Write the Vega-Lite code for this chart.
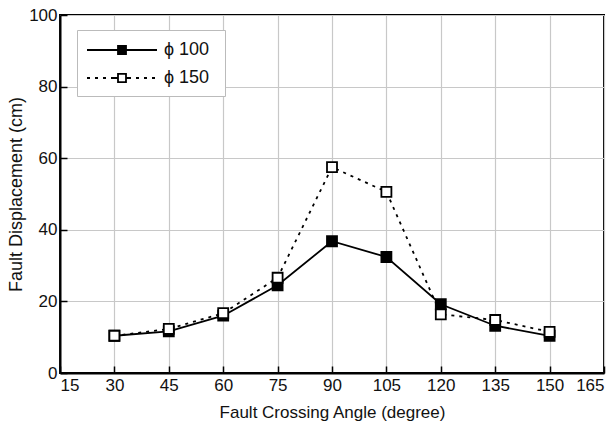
{
  "$schema": "https://vega.github.io/schema/vega-lite/v6.json",
  "width": 544,
  "height": 358,
  "autosize": "none",
  "padding": {"left": 60, "top": 15, "right": 9, "bottom": 59},
  "background": "white",
  "config": {
    "font": "Liberation Sans",
    "view": {"stroke": "black", "strokeWidth": 2},
    "axis": {
      "labelFont": "Liberation Sans",
      "titleFont": "Liberation Sans",
      "labelFontSize": 17,
      "titleFontSize": 17,
      "labelColor": "#111",
      "titleColor": "#111",
      "titleFontWeight": "normal",
      "domainColor": "black",
      "domainWidth": 2,
      "tickColor": "black",
      "tickWidth": 1.5,
      "tickSize": -7,
      "gridColor": "#c8c8c8",
      "gridWidth": 1.2,
      "gridOpacity": 1
    }
  },
  "data": {
    "values": [
      {"angle": 30, "disp": 10.4, "series": "ϕ 100"},
      {"angle": 45, "disp": 11.6, "series": "ϕ 100"},
      {"angle": 60, "disp": 16.0, "series": "ϕ 100"},
      {"angle": 75, "disp": 24.5, "series": "ϕ 100"},
      {"angle": 90, "disp": 36.8, "series": "ϕ 100"},
      {"angle": 105, "disp": 32.4, "series": "ϕ 100"},
      {"angle": 120, "disp": 19.2, "series": "ϕ 100"},
      {"angle": 135, "disp": 13.2, "series": "ϕ 100"},
      {"angle": 150, "disp": 10.4, "series": "ϕ 100"},
      {"angle": 30, "disp": 10.4, "series": "ϕ 150"},
      {"angle": 45, "disp": 12.3, "series": "ϕ 150"},
      {"angle": 60, "disp": 16.7, "series": "ϕ 150"},
      {"angle": 75, "disp": 26.6, "series": "ϕ 150"},
      {"angle": 90, "disp": 57.5, "series": "ϕ 150"},
      {"angle": 105, "disp": 50.6, "series": "ϕ 150"},
      {"angle": 120, "disp": 16.4, "series": "ϕ 150"},
      {"angle": 135, "disp": 14.8, "series": "ϕ 150"},
      {"angle": 150, "disp": 11.5, "series": "ϕ 150"}
    ]
  },
  "encoding": {
    "x": {
      "field": "angle", "type": "quantitative",
      "scale": {"domain": [15, 165], "nice": false, "zero": false},
      "axis": {"values": [15, 30, 45, 60, 75, 90, 105, 120, 135, 150, 165], "title": "Fault Crossing Angle (degree)", "titlePadding": 11, "labelPadding": 11}
    },
    "y": {
      "field": "disp", "type": "quantitative",
      "scale": {"domain": [0, 100], "nice": false},
      "axis": {"values": [0, 20, 40, 60, 80, 100], "title": "Fault Displacement (cm)", "titleFontSize": 18, "titlePadding": 3, "labelPadding": 10}
    }
  },
  "layer": [
    {
      "transform": [{"filter": "datum.series === 'ϕ 100'"}],
      "mark": {"type": "line", "color": "black", "strokeWidth": 1.8},
      "encoding": {}
    },
    {
      "transform": [{"filter": "datum.series === 'ϕ 150'"}],
      "mark": {"type": "line", "color": "black", "strokeWidth": 1.8, "strokeDash": [3, 5]},
      "encoding": {}
    },
    {
      "mark": {"type": "point", "shape": "square", "size": 100, "stroke": "black", "strokeWidth": 1.8, "opacity": 1, "filled": true},
      "encoding": {
        "fill": {
          "field": "series", "type": "nominal",
          "scale": {"domain": ["ϕ 100", "ϕ 150"], "range": ["black", "white"]},
          "legend": {
            "title": null,
            "orient": "none",
            "legendX": 17,
            "legendY": 15,
            "padding": 9,
            "strokeColor": "#bbbbbb",
            "fillColor": "white",
            "labelFontSize": 18,
            "labelColor": "#111",
            "labelFont": "Liberation Sans",
            "symbolSize": 400,
            "symbolStrokeWidth": 1.8,
            "symbolStrokeColor": "black",
            "symbolOpacity": 1,
            "rowPadding": 8,
            "labelOffset": 56,
            "encode": {
              "symbols": {
                "update": {
                  "shape": [
                    {"test": "datum.value === 'ϕ 100'", "value": "M-1,0H6M2.1,-0.42H2.9V0.42H2.1ZM11.5,0"},
                    {"value": "M-1,0H-0.7M-0.2,0H0.1M0.6,0H0.9M1.4,0H2.1M2.9,0H3.4M3.9,0H4.2M4.7,0H5M5.5,0H5.8M2.1,-0.42H2.9V0.42H2.1ZM11.5,0"}
                  ],
                  "stroke": {"value": "black"},
                  "strokeWidth": {"value": 1.8},
                  "opacity": {"value": 1}
                }
              }
            }
          }
        }
      }
    }
  ]
}
